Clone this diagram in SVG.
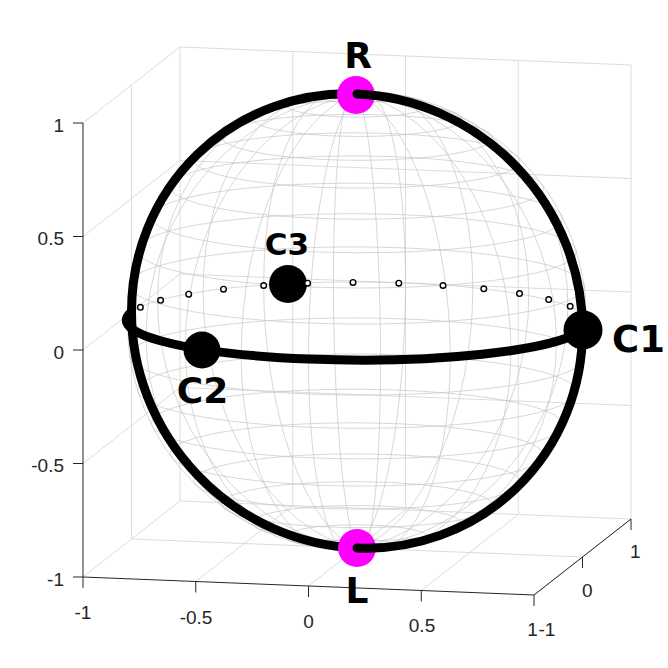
<svg xmlns="http://www.w3.org/2000/svg" width="668" height="668" viewBox="0 0 668 668">
<style>
.grid{fill:none;stroke:#dcdcdc;stroke-width:1}
.mesh circle{fill:none;stroke:#c6c6c6;stroke-width:0.7;vector-effect:non-scaling-stroke}
.axis{fill:none;stroke:#262626;stroke-width:1}
.tick{font-family:"Liberation Sans",Arial,sans-serif;font-size:19px;fill:#262626}
.thick{fill:none;stroke:#000;stroke-width:9;stroke-linecap:round;vector-effect:non-scaling-stroke}
.mk{fill:#fff;stroke:#000;stroke-width:1.4}
.lbl{font-family:"DejaVu Sans","Liberation Sans",sans-serif;font-weight:bold;fill:#000}
</style>
<rect width="668" height="668" fill="#fff"/>
<g id="grid">
<path class="grid" d="M180 47V501M292.75 51.5V505.5M405.5 56V510M518.25 60.5V514.5M631 65V519M180 47L631 65M180 160.5L631 178.5M180 274L631 292M180 387.5L631 405.5M180 501L631 519M131.5 85V539M83 123L180 47M83 236.5L180 160.5M83 350L180 274M83 463.5L180 387.5M83 577L180 501M195.75 581.5L292.75 505.5M308.5 586L405.5 510M421.25 590.5L518.25 514.5M534 595L631 519M131.5 539L582.5 557"/>
</g>
<g id="sphere-mesh" class="mesh">
<circle r="1" transform="matrix(225.5 9 0 -227 357 321)"/>
<circle r="1" transform="matrix(229.45 -3.18 0 -227 357 321)"/>
<circle r="1" transform="matrix(210.94 -15.06 0 -227 357 321)"/>
<circle r="1" transform="matrix(171.79 -25.45 0 -227 357 321)"/>
<circle r="1" transform="matrix(115.81 -33.36 0 -227 357 321)"/>
<circle r="1" transform="matrix(48.5 -38 0 -227 357 321)"/>
<circle r="1" transform="matrix(-23.55 -38.92 0 -227 357 321)"/>
<circle r="1" transform="matrix(-93.31 -36.03 0 -227 357 321)"/>
<circle r="1" transform="matrix(-153.92 -29.62 0 -227 357 321)"/>
<circle r="1" transform="matrix(-199.47 -20.3 0 -227 357 321)"/>
<circle r="0.15643" transform="matrix(225.5 9 48.5 -38 357 96.79)"/>
<circle r="0.30902" transform="matrix(225.5 9 48.5 -38 357 105.11)"/>
<circle r="0.45399" transform="matrix(225.5 9 48.5 -38 357 118.74)"/>
<circle r="0.58779" transform="matrix(225.5 9 48.5 -38 357 137.35)"/>
<circle r="0.70711" transform="matrix(225.5 9 48.5 -38 357 160.49)"/>
<circle r="0.80902" transform="matrix(225.5 9 48.5 -38 357 187.57)"/>
<circle r="0.89101" transform="matrix(225.5 9 48.5 -38 357 217.94)"/>
<circle r="0.95106" transform="matrix(225.5 9 48.5 -38 357 250.85)"/>
<circle r="0.98769" transform="matrix(225.5 9 48.5 -38 357 285.49)"/>
<circle r="1" transform="matrix(225.5 9 48.5 -38 357 321)"/>
<circle r="0.98769" transform="matrix(225.5 9 48.5 -38 357 356.51)"/>
<circle r="0.95106" transform="matrix(225.5 9 48.5 -38 357 391.15)"/>
<circle r="0.89101" transform="matrix(225.5 9 48.5 -38 357 424.06)"/>
<circle r="0.80902" transform="matrix(225.5 9 48.5 -38 357 454.43)"/>
<circle r="0.70711" transform="matrix(225.5 9 48.5 -38 357 481.51)"/>
<circle r="0.58779" transform="matrix(225.5 9 48.5 -38 357 504.65)"/>
<circle r="0.45399" transform="matrix(225.5 9 48.5 -38 357 523.26)"/>
<circle r="0.30902" transform="matrix(225.5 9 48.5 -38 357 536.89)"/>
<circle r="0.15643" transform="matrix(225.5 9 48.5 -38 357 545.21)"/>
</g>
<g id="axes">
<path class="axis" d="M83 123V577L534 595L631 519M73 123H83M73 236.5H83M73 350H83M73 463.5H83M73 577H83M83 577v11M195.75 581.5v11M308.5 586v11M421.25 590.5v11M534 595v11M582.5 557v11M631 519v11"/>
<g class="tick" text-anchor="end">
<text x="64" y="132">1</text>
<text x="64" y="245">0.5</text>
<text x="64" y="358.5">0</text>
<text x="64" y="472">-0.5</text>
<text x="64" y="586">-1</text>
</g>
<g class="tick" text-anchor="middle">
<text x="83" y="619">-1</text>
<text x="196" y="624">-0.5</text>
<text x="308.5" y="627.5">0</text>
<text x="422" y="632">0.5</text>
<text x="532.5" y="636">1</text>
</g>
<g class="tick">
<text x="538.5" y="636">-1</text>
<text x="582" y="597">0</text>
<text x="630" y="558">1</text>
</g>
</g>
<g id="connectors">
<path class="thick" transform="matrix(225.5 9 0 -227 357 321)" d="M0 1A1 1 0 0 1 -1 0A1 1 0 0 1 0 -1"/>
<path class="thick" transform="matrix(225.5 9 48.5 -38 357 321)" d="M-1 0A1 1 0 0 1 0 -1A1 1 0 0 1 1 0"/>
</g>
<g id="node-R"><circle cx="356" cy="95" r="19" fill="#ff00ff"/><text class="lbl" x="358" y="68" font-size="36" text-anchor="middle">R</text></g>
<g id="node-L"><circle cx="357" cy="548" r="19" fill="#ff00ff"/><text class="lbl" x="357" y="603" font-size="36" text-anchor="middle">L</text></g>
<g id="connectors-front">
<path class="thick" transform="matrix(225.5 9 0 -227 357 321)" d="M0 1A1 1 0 0 0 1 0A1 1 0 0 0 0 -1"/>
</g>
<g id="node-C1"><circle cx="583" cy="330" r="19.5" fill="#000"/><text class="lbl" x="612" y="352" font-size="37">C1</text></g>
<g id="node-C2"><circle cx="202" cy="350" r="18.5" fill="#000"/><text class="lbl" x="202.5" y="403" font-size="36" text-anchor="middle">C2</text></g>
<g id="node-C3"><circle cx="288" cy="284" r="19" fill="#000"/><text class="lbl" x="287" y="255" font-size="31" text-anchor="middle">C3</text></g>
<g id="markers">
<circle class="mk" cx="140.4" cy="307.3" r="2.8"/>
<circle class="mk" cx="160.6" cy="300.3" r="2.8"/>
<circle class="mk" cx="188.7" cy="294.2" r="2.8"/>
<circle class="mk" cx="223.5" cy="289.2" r="2.8"/>
<circle class="mk" cx="263.7" cy="285.5" r="2.8"/>
<circle class="mk" cx="307.6" cy="283.2" r="2.8"/>
<circle class="mk" cx="353" cy="282.4" r="2.8"/>
<circle class="mk" cx="398.8" cy="283.2" r="2.8"/>
<circle class="mk" cx="443" cy="285.5" r="2.8"/>
<circle class="mk" cx="483.8" cy="288.8" r="2.8"/>
<circle class="mk" cx="519.5" cy="293.6" r="2.8"/>
<circle class="mk" cx="548.7" cy="299.6" r="2.8"/>
<circle class="mk" cx="570.2" cy="306.3" r="2.8"/>
</g>
</svg>
